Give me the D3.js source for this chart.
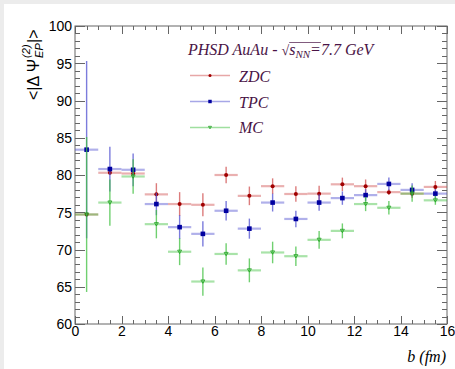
<!DOCTYPE html>
<html><head><meta charset="utf-8">
<script src="https://cdn.jsdelivr.net/npm/d3@7"></script>
<style>body{margin:0;background:#ececec;} svg{display:block;}</style>
</head><body>
<svg id="c" width="455" height="369"></svg>
<script>
const bins   = [0.5,1.5,2.5,3.5,4.5,5.5,6.5,7.5,8.5,9.5,10.5,11.5,12.5,13.5,14.5,15.5];
const zdc    = [74.7,80.3,80.2,77.4,76.1,76.0,80.0,77.2,78.5,77.45,77.5,78.75,78.5,77.7,77.5,78.4];
const zdcErr = [0.3,0.3,0.3,1.5,1.6,1.55,1.1,1.25,1.05,1.05,1.07,0.9,0.9,0.4,0.6,0.8];
const tpc    = [83.4,80.8,80.7,76.1,73.0,72.1,75.2,72.8,76.3,74.1,76.3,76.9,77.3,78.8,78.0,77.5];
const tpcErr = [11.9,3.0,2.2,1.5,1.6,1.7,1.3,1.35,1.2,1.1,1.1,0.9,0.8,0.85,0.9,0.6];
const mc     = [74.7,76.3,79.8,73.4,69.7,65.7,69.4,67.2,69.6,69.1,71.3,72.5,76.1,75.6,77.5,76.6];
const mcErr  = [10.4,3.1,2.3,1.9,1.8,1.9,1.45,1.6,1.45,1.3,1.2,1.0,0.95,0.9,1.1,0.6];
const binHalf = 0.5;
const xTicks = [0,2,4,6,8,10,12,14,16];
const yTicks = [60,65,70,75,80,85,90,95,100];
const seriesNames = ["ZDC","TPC","MC"];

const svg = d3.select("#c");
svg.append("rect").attr("x",4).attr("y",4).attr("width",451).attr("height",365).attr("fill","#fff");

const x = d3.scaleLinear().domain([0,16]).range([75,447]);
const y = d3.scaleLinear().domain([60,100]).range([324,26]);

svg.append("rect").attr("x",75).attr("y",26).attr("width",372).attr("height",298)
  .attr("fill","none").attr("stroke","#666").attr("stroke-width",1);

const axCol = "#666";
const gt = svg.append("g").attr("stroke",axCol).attr("stroke-width",1);
d3.range(0,16.001,0.5).forEach(v=>{
  const major = Math.abs(v%2)<1e-6;
  const L = major?8:4;
  const px = Math.round(x(v))+0.5;
  gt.append("line").attr("x1",px).attr("x2",px).attr("y1",324).attr("y2",324-L);
  gt.append("line").attr("x1",px).attr("x2",px).attr("y1",26).attr("y2",26+L);
});
d3.range(60,100.001,1).forEach(v=>{
  const major = Math.abs(v%5)<1e-6;
  const L = major?10:5;
  const py = Math.round(y(v))+0.5;
  gt.append("line").attr("x1",75).attr("x2",75+L).attr("y1",py).attr("y2",py);
  gt.append("line").attr("x1",447).attr("x2",447-L).attr("y1",py).attr("y2",py);
});

const xAx = d3.axisBottom(x).tickValues(xTicks).tickSize(0).tickPadding(0);
const gx = svg.append("g").attr("transform","translate(0,326)").call(xAx);
gx.select(".domain").remove();
gx.selectAll("text").attr("font-family","Liberation Sans, Arial, sans-serif").attr("font-size",14).attr("fill","#000").attr("dy","0.71em");
const yAx = d3.axisLeft(y).tickValues(yTicks).tickSize(0).tickPadding(3);
const gy = svg.append("g").attr("transform","translate(75,0)").call(yAx);
gy.select(".domain").remove();
gy.selectAll("text").attr("font-family","Liberation Sans, Arial, sans-serif").attr("font-size",14).attr("fill","#000").attr("dy","0.35em");

svg.append("text").attr("x",446).attr("y",362).attr("text-anchor","end")
  .attr("font-family","Liberation Serif, Times New Roman, serif").attr("font-style","italic").attr("font-size",16)
  .text("b (fm)");

const yt = svg.append("g").attr("transform","translate(39,100) rotate(-90)")
  .attr("font-family","Liberation Sans, Arial, sans-serif").attr("fill","#000");
const t1 = yt.append("text").attr("x",0).attr("y",0).attr("font-size",16).text("<|Δ Ψ");
const w1 = t1.node().getComputedTextLength();
yt.append("text").attr("x",w1+1).attr("y",-9).attr("font-size",11).attr("font-style","italic").text("(2)");
yt.append("text").attr("x",w1+1).attr("y",4).attr("font-size",11).attr("font-style","italic").text("EP");
yt.append("text").attr("x",w1+16).attr("y",0).attr("font-size",16).text("|>");

const styles = {
  ZDC:{mk:"#a00000", bar:"#d05050"},
  TPC:{mk:"#0000a0", bar:"#5050d0"},
  MC:{mk:"#20a020", bar:"#40c040"}
};
const data = {ZDC:[zdc,zdcErr], TPC:[tpc,tpcErr], MC:[mc,mcErr]};

function marker(g, name, cx, cy, sc){
  const s = styles[name];
  sc = sc || 1;
  if(name==="ZDC") g.append("circle").attr("cx",cx).attr("cy",cy).attr("r",2*sc).attr("fill",s.mk);
  else if(name==="TPC") g.append("rect").attr("x",cx-2.3*sc).attr("y",cy-2.3*sc).attr("width",4.6*sc).attr("height",4.6*sc).attr("fill",s.mk);
  else g.append("path").attr("d",`M${cx-2*sc},${cy-1.6*sc}L${cx+2*sc},${cy-1.6*sc}L${cx},${cy+1.8*sc}Z`).attr("fill","none").attr("stroke",s.mk).attr("stroke-width",0.8);
}

seriesNames.forEach(name=>{
  const [vals, errs] = data[name];
  const s = styles[name];
  const g = svg.append("g");
  bins.forEach((b,i)=>{
    g.append("line").attr("x1",x(b-binHalf)).attr("x2",x(b+binHalf)).attr("y1",y(vals[i])).attr("y2",y(vals[i]))
      .attr("stroke",s.bar).attr("stroke-width",2.2).attr("stroke-opacity",0.45);
    g.append("line").attr("x1",x(b)).attr("x2",x(b)).attr("y1",y(vals[i]-errs[i])).attr("y2",y(vals[i]+errs[i]))
      .attr("stroke",s.bar).attr("stroke-width",1.4).attr("stroke-opacity",0.75);
  });
  bins.forEach((b,i)=> marker(g,name,x(b),y(vals[i])));
});

const txtCol = "#4a1446";
const leg = svg.append("g").attr("font-family","Liberation Serif, Times New Roman, serif").attr("font-style","italic").attr("fill",txtCol);
const title = leg.append("text").attr("x",188).attr("y",55).attr("font-size",16);
title.append("tspan").text("PHSD AuAu - ");
title.append("tspan").attr("font-style","normal").attr("font-size",14).text("√");
title.append("tspan").text("s");
title.append("tspan").attr("font-size",11).attr("dy",3).text("NN");
title.append("tspan").attr("dy",-3).text("=7.7 GeV");
const tnode = title.node();
const cs = tnode.getStartPositionOfChar(13), ce = tnode.getEndPositionOfChar(16);
leg.append("line").attr("x1",cs.x).attr("x2",ce.x).attr("y1",42.5).attr("y2",42.5).attr("stroke",txtCol).attr("stroke-width",0.7);

const legY = [75.5,101.5,127.5];
const legTextY = [81.5,107.5,133];
seriesNames.forEach((name,k)=>{
  const s = styles[name];
  leg.append("line").attr("x1",190).attr("x2",230).attr("y1",legY[k]).attr("y2",legY[k])
    .attr("stroke",s.bar).attr("stroke-width",1.3).attr("stroke-opacity",0.5);
  marker(leg,name,210,legY[k],0.75);
  leg.append("text").attr("x",239).attr("y",legTextY[k]).attr("font-size",16).text(name);
});
</script>
</body></html>
